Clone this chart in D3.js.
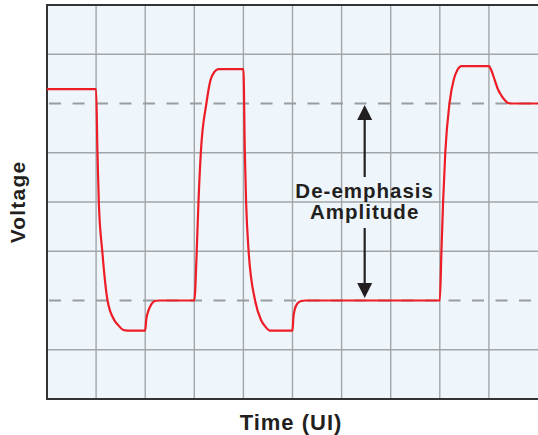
<!DOCTYPE html>
<html>
<head>
<meta charset="utf-8">
<script src="https://cdn.jsdelivr.net/npm/d3@7"></script>
<style>
  body { margin: 0; background: #ffffff; }
  text { font-family: "Liberation Sans", Arial, sans-serif; font-weight: bold; fill: #231f20; }
</style>
</head>
<body>
<div id="chart"></div>
<script>

// ---- data (time in UI, voltage in grid divisions) ----
const TIME_TICKS = [0, 1, 2, 3, 4, 5, 6, 7, 8, 9, 10];
const VOLT_TICKS = [0, 1, 2, 3, 4, 5, 6, 7, 8];
const REF_LEVELS = [6, 2];   // dashed lines: de-emphasised high / low

const WAVE_T = [0, 1, 1.027, 1.055, 1.127, 1.233, 1.372, 1.450, 1.556, 1.641,
                2, 2.020, 2.064, 2.124, 2.195, 2.275,
                3, 3.049, 3.085, 3.134, 3.246, 3.331, 3.410, 3.495,
                4, 4.029, 4.055, 4.107, 4.238, 4.361, 4.439, 4.537,
                5, 5.017, 5.049, 5.102, 5.177, 5.262,
                8, 8.033, 8.067, 8.112, 8.197, 8.283, 8.358, 8.441,
                9, 9.055, 9.117, 9.179, 9.255, 9.322, 9.390, 9.466, 10];
const WAVE_V = [6.29, 6.29, 5.02, 4.0, 2.99, 2.0, 1.60, 1.50, 1.40, 1.39,
                1.39, 1.60, 1.79, 1.92, 1.99, 2.0,
                2.0, 2.99, 4.0, 5.02, 6.0, 6.48, 6.64, 6.70,
                6.70, 5.02, 4.0, 2.99, 2.0, 1.60, 1.48, 1.39,
                1.39, 1.64, 1.83, 1.94, 1.99, 2.0,
                2.0, 2.99, 4.0, 5.01, 6.0, 6.48, 6.68, 6.76,
                6.76, 6.66, 6.48, 6.30, 6.16, 6.07, 6.01, 6.0, 6.0];

const ANNOT_T = 6.47;
const ANNOT_LINES = ["De-emphasis", "Amplitude"];
const X_LABEL = "Time (UI)";
const Y_LABEL = "Voltage";

// ---- layout ----
const SVG_WIDTH = 538;
const SVG_HEIGHT = 435;
const X_LEFT = 47;
const X_RIGHT = 538;
const Y_TOP = 5;
const Y_BOTTOM = 399;

const svg = d3.select("#chart")
  .append("svg")
  .attr("width", SVG_WIDTH)
  .attr("height", SVG_HEIGHT);

const xScale = d3.scaleLinear().domain([0, 10]).range([X_LEFT, X_RIGHT]);
const yScale = d3.scaleLinear().domain([0, 8]).range([Y_BOTTOM, Y_TOP]);

// background
svg.append("rect")
  .attr("x", xScale(0))
  .attr("y", yScale(8))
  .attr("width", xScale(10) - xScale(0))
  .attr("height", yScale(0) - yScale(8))
  .attr("fill", "#eef6fc");

// grid
const grid = svg.append("g").attr("class", "grid")
  .attr("stroke", "#a3a6a9")
  .attr("stroke-width", 1.4);

grid.selectAll("line.vx")
  .data(TIME_TICKS.slice(1, -1))
  .enter().append("line")
  .attr("class", "vx")
  .attr("x1", d => xScale(d)).attr("x2", d => xScale(d))
  .attr("y1", yScale(8)).attr("y2", yScale(0));

grid.selectAll("line.hy")
  .data(VOLT_TICKS.slice(1, -1).filter(d => !REF_LEVELS.includes(d)))
  .enter().append("line")
  .attr("class", "hy")
  .attr("x1", xScale(0)).attr("x2", xScale(10))
  .attr("y1", d => yScale(d)).attr("y2", d => yScale(d));

// dashed reference levels
svg.append("g")
  .selectAll("line")
  .data(REF_LEVELS)
  .enter().append("line")
  .attr("x1", xScale(0)).attr("x2", xScale(10))
  .attr("y1", d => yScale(d)).attr("y2", d => yScale(d))
  .attr("stroke", "#9a9c9f")
  .attr("stroke-width", 2.2)
  .attr("stroke-dasharray", "12,11.5")
  .attr("stroke-dashoffset", -2);

// frame (left, top, bottom)
svg.append("path")
  .attr("d", `M${xScale(10)},${yScale(8)}H${xScale(0)}V${yScale(0)}H${xScale(10)}`)
  .attr("fill", "none")
  .attr("stroke", "#333333")
  .attr("stroke-width", 2);

// waveform
const wave = WAVE_T.map((t, i) => ({t: t, v: WAVE_V[i]}));
const d3line = d3.line()
  .x(d => xScale(d.t))
  .y(d => yScale(d.v))
  .curve(d3.curveMonotoneX);

svg.append("path")
  .datum(wave)
  .attr("d", d3line)
  .attr("fill", "none")
  .attr("stroke", "#ee1c25")
  .attr("stroke-width", 2.2)
  .attr("stroke-linejoin", "round");

// annotation arrows
const ax = xScale(ANNOT_T);
const topY = yScale(REF_LEVELS[0]) + 1.5;
const botY = yScale(REF_LEVELS[1]) - 2.5;
const HEAD = 15, HALF = 7.5;
const arrows = svg.append("g").attr("fill", "#231f20").attr("stroke", "#231f20");

arrows.append("line")
  .attr("x1", ax).attr("x2", ax)
  .attr("y1", topY + HEAD).attr("y2", topY + 72)
  .attr("stroke-width", 2.2);
arrows.append("path")
  .attr("d", `M${ax},${topY}L${ax - HALF},${topY + HEAD}L${ax + HALF},${topY + HEAD}Z`)
  .attr("stroke", "none");

arrows.append("line")
  .attr("x1", ax).attr("x2", ax)
  .attr("y1", botY - 70).attr("y2", botY - HEAD)
  .attr("stroke-width", 2.2);
arrows.append("path")
  .attr("d", `M${ax},${botY}L${ax - HALF},${botY - HEAD}L${ax + HALF},${botY - HEAD}Z`)
  .attr("stroke", "none");

svg.append("g")
  .selectAll("text")
  .data(ANNOT_LINES)
  .enter().append("text")
  .attr("x", ax)
  .attr("y", (d, i) => 198 + i * 21)
  .attr("text-anchor", "middle")
  .style("font-size", "20.5px")
  .style("letter-spacing", "1px")
  .text(d => d);

// axis labels
svg.append("text")
  .attr("x", 291)
  .attr("y", 430)
  .attr("text-anchor", "middle")
  .style("font-size", "22px")
  .style("letter-spacing", "1px")
  .text(X_LABEL);

svg.append("text")
  .attr("transform", `translate(25, ${(yScale(0) + yScale(8)) / 2}) rotate(-90)`)
  .attr("text-anchor", "middle")
  .style("font-size", "21px")
  .style("letter-spacing", "1.2px")
  .text(Y_LABEL);

</script>
</body>
</html>
